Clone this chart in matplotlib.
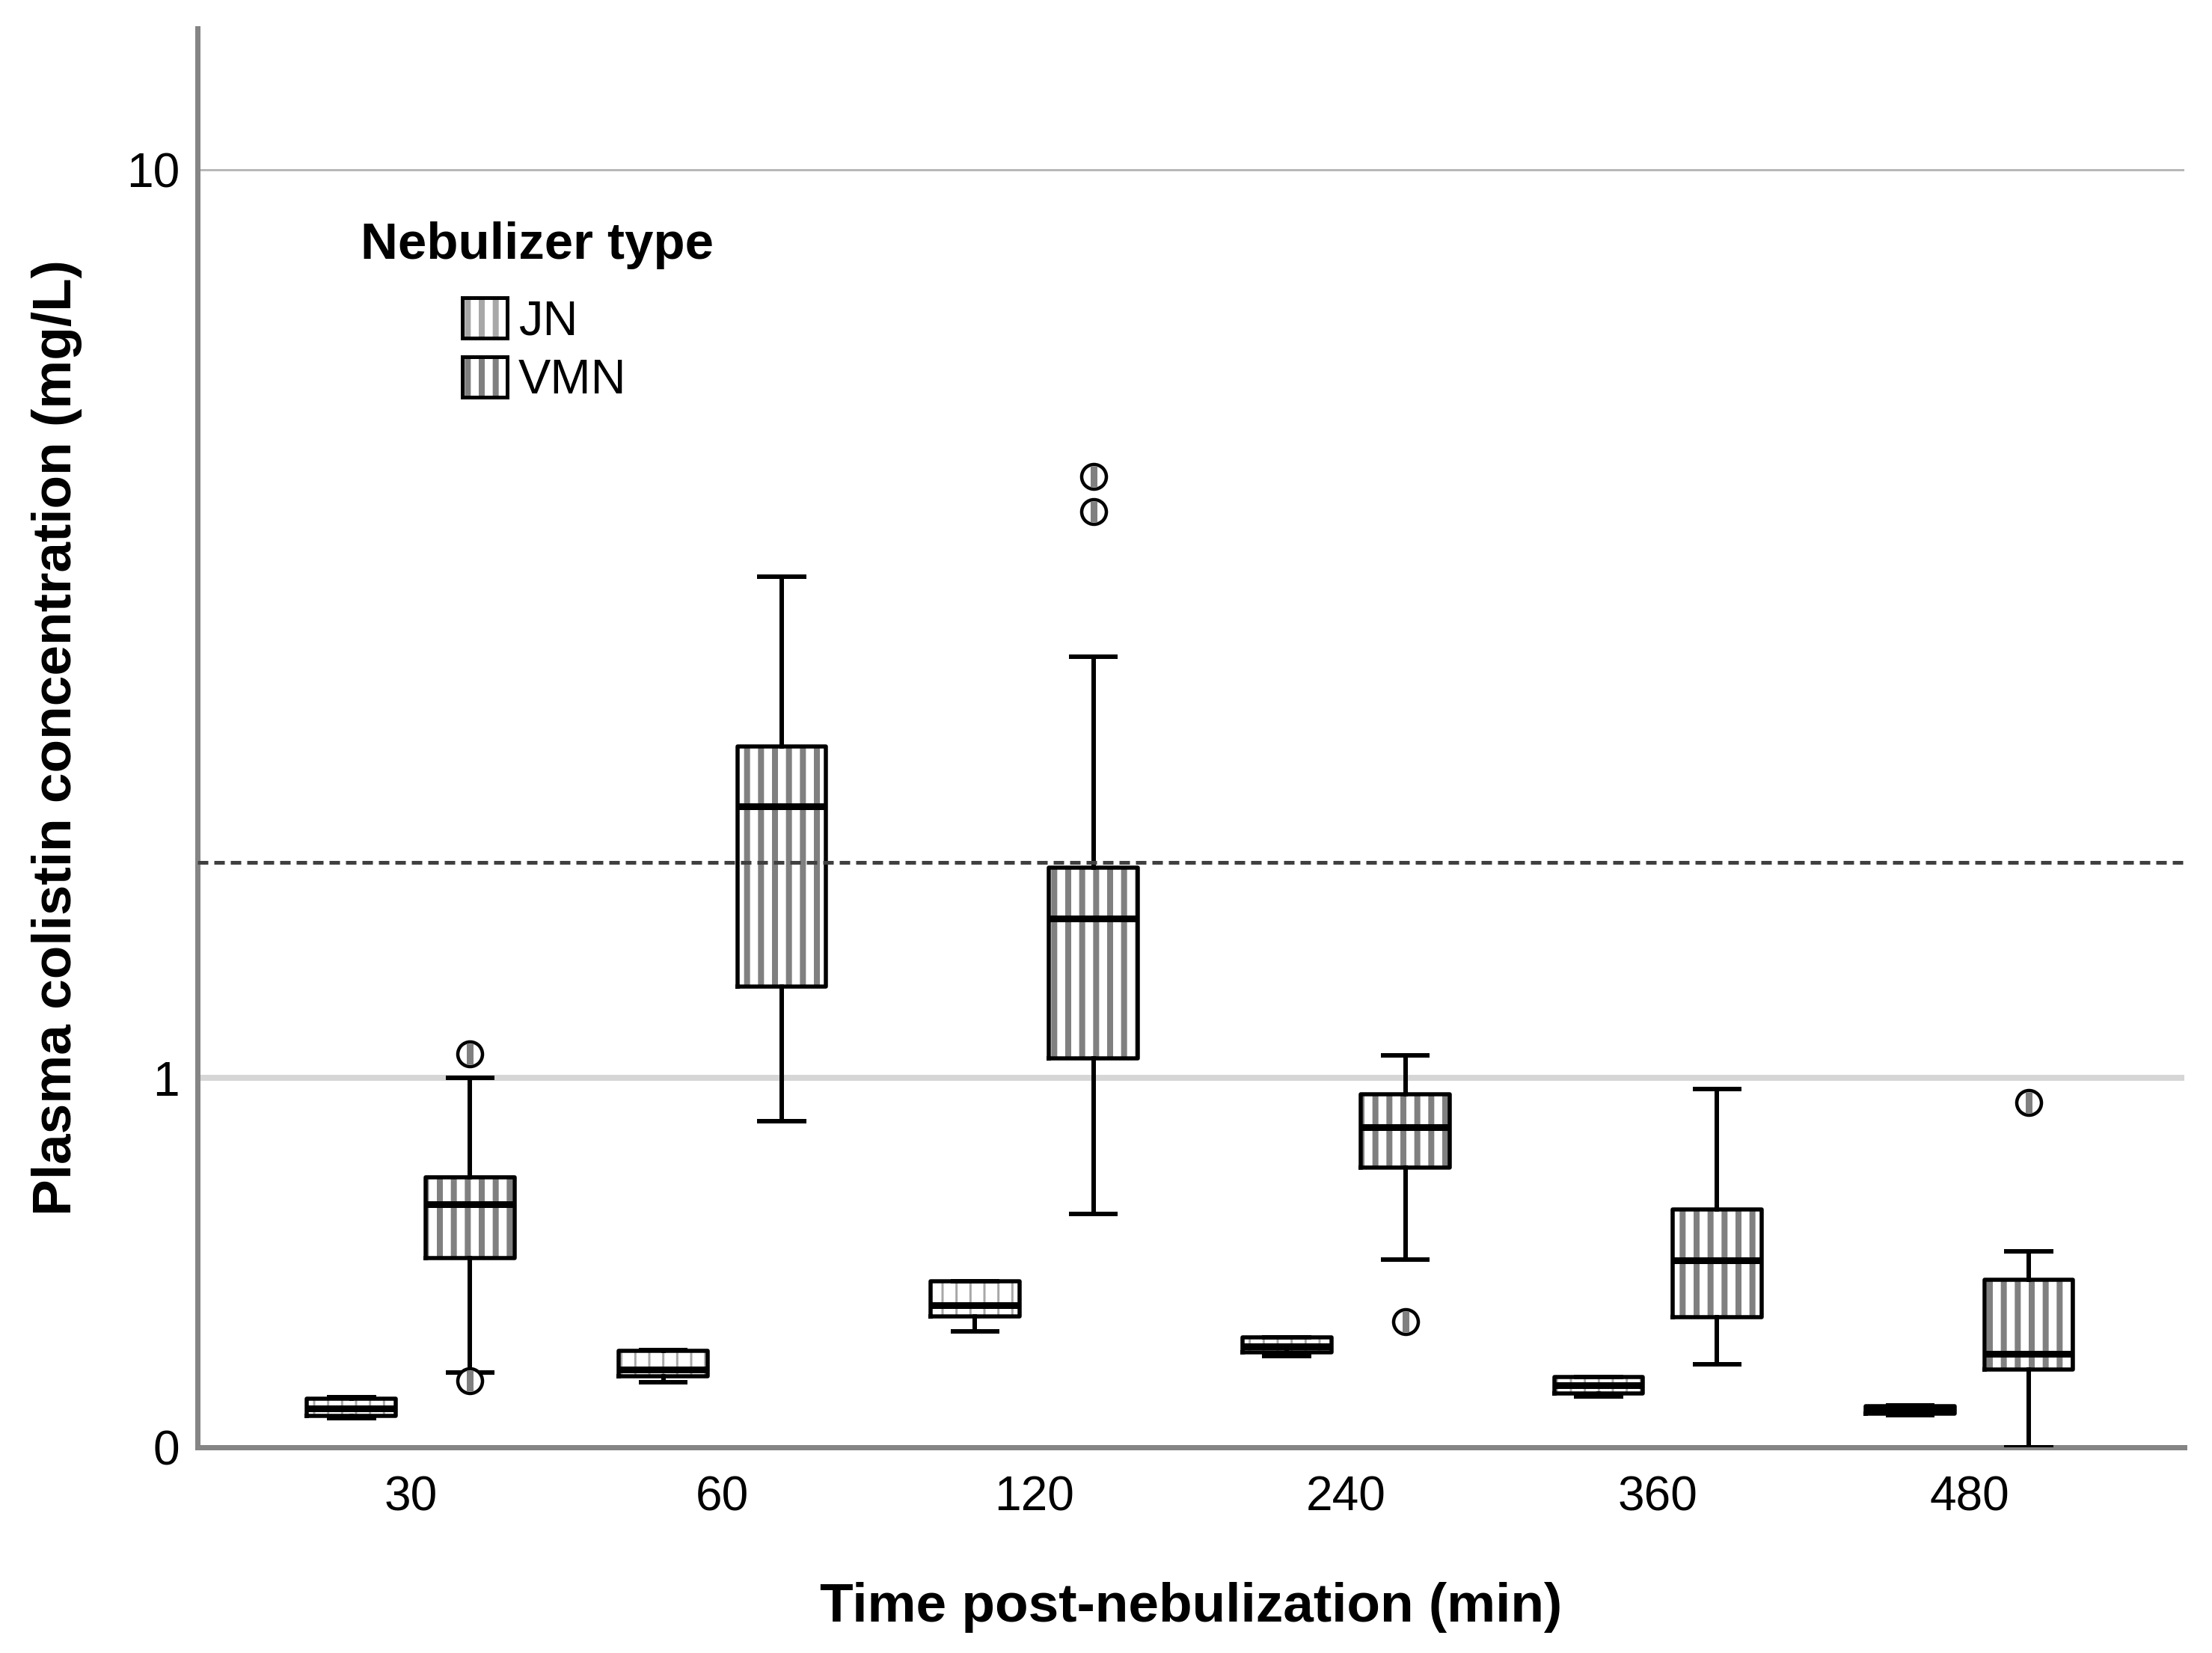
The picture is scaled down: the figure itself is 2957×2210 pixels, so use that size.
import numpy as np
import matplotlib
matplotlib.use("Agg")
import matplotlib.pyplot as plt
from matplotlib.patches import Patch
from matplotlib.legend_handler import HandlerTuple

# ---------------- data (mg/L) ----------------
times = ['30', '60', '120', '240', '360', '480']
groups = ['JN', 'VMN']

jn_whislo = [0.056, 0.130, 0.243, 0.187, 0.100, 0.062]
jn_q1     = [0.061, 0.143, 0.279, 0.195, 0.106, 0.065]
jn_med    = [0.076, 0.157, 0.306, 0.209, 0.124, 0.072]
jn_q3     = [0.096, 0.198, 0.366, 0.229, 0.141, 0.080]
jn_whishi = [0.099, 0.200, 0.366, 0.229, 0.141, 0.082]
jn_fliers = [[], [], [], [], [], []]

vmn_whislo = [0.151, 0.844, 0.550, 0.422, 0.169, 0.0]
vmn_q1     = [0.427, 1.375, 1.075, 0.690, 0.277, 0.157]
vmn_med    = [0.578, 2.330, 1.700, 0.824, 0.420, 0.192]
vmn_q3     = [0.660, 2.730, 1.970, 0.941, 0.563, 0.370]
vmn_whishi = [1.000, 4.130, 3.410, 1.087, 0.960, 0.445]
vmn_fliers = [[1.093, 0.133], [], [5.19, 4.79], [0.266], [], [0.910]]

reference_line = 2.0
y_ticks = [0, 1, 10]
y_ticklabels = ['0', '1', '10']

# ---------------- styling ----------------
DPI = 112
W, H = 2957, 2210
def px(v):
    return v * 72.0 / DPI

plt.rcParams['font.family'] = ['Liberation Sans', 'DejaVu Sans']
plt.rcParams['hatch.linewidth'] = px(8)
plt.rcParams['lines.scale_dashes'] = False

fig = plt.figure(figsize=(W / DPI, H / DPI), dpi=DPI)
ax = fig.add_axes([264 / W, 1 - 1935 / H, (2920 - 264) / W, (1935 - 38) / H])

# SPSS "safe log" scale
def fwd(y):
    y = np.asarray(y, dtype=float)
    return np.sign(y) * np.log10(np.abs(y) + 1)

def inv(z):
    z = np.asarray(z, dtype=float)
    return np.sign(z) * (10 ** np.abs(z) - 1)

ax.set_yscale('function', functions=(fwd, inv))

def make_stats(lo, q1, med, q3, hi, fl):
    return [dict(whislo=a, q1=b, med=c, q3=d, whishi=e, fliers=np.array(f, dtype=float), label=t)
            for a, b, c, d, e, f, t in zip(lo, q1, med, q3, hi, fl, times)]

stats = {
    'JN': make_stats(jn_whislo, jn_q1, jn_med, jn_q3, jn_whishi, jn_fliers),
    'VMN': make_stats(vmn_whislo, vmn_q1, vmn_med, vmn_q3, vmn_whishi, vmn_fliers),
}
offsets = {'JN': -0.19, 'VMN': 0.19}
hatch_col = {'JN': '#a8a8a8', 'VMN': '#808080'}
hatch_lw = {'JN': px(3), 'VMN': px(8)}
width = 0.285
x = np.arange(len(times))

for g in groups:
    pos = x + offsets[g]
    # layer 1: hatched fill
    r1 = ax.bxp(stats[g], positions=pos, widths=width, patch_artist=True,
                showcaps=False, showfliers=False, manage_ticks=False,
                boxprops=dict(facecolor='white', edgecolor=hatch_col[g], hatch='|', linewidth=0),
                zorder=2)
    for a in r1['whiskers'] + r1['medians']:
        a.set_visible(False)
    for b in r1['boxes']:
        try:
            b.set_hatch_linewidth(hatch_lw[g])
        except AttributeError:
            pass
    # layer 2: outlines, whiskers, medians, fliers
    ax.bxp(stats[g], positions=pos, widths=width, patch_artist=False,
           showcaps=True, showfliers=True, manage_ticks=False,
           capwidths=width * 0.5,
           boxprops=dict(color='black', linewidth=px(5.5)),
           medianprops=dict(color='black', linewidth=px(9), solid_capstyle='butt'),
           whiskerprops=dict(color='black', linewidth=px(6)),
           capprops=dict(color='black', linewidth=px(6)),
           flierprops=dict(marker='o', markerfacecolor='white', markeredgecolor='black',
                           markersize=px(33), markeredgewidth=px(4.5), linestyle='none'),
           zorder=3)
    # gray bar inside outlier circles
    for p, f in zip(pos, stats[g]):
        if len(f['fliers']):
            ax.plot(np.full(len(f['fliers']), p), f['fliers'], linestyle='none',
                    marker='|', markersize=px(28), markeredgewidth=px(9),
                    color='#808080', zorder=6)

# reference line
ax.axhline(reference_line, color='#404040', linewidth=px(5),
           linestyle=(0, (px(14), px(8))), zorder=4)

# axes limits / ticks
ax.set_xlim(-0.684, 5.689)
ax.set_ylim(0, 13.35)
ax.set_xticks(x)
ax.set_xticklabels(times)
ax.set_yticks(y_ticks)
ax.set_yticklabels(y_ticklabels)
ax.tick_params(axis='both', length=0, labelsize=px(64), colors='black')
ax.tick_params(axis='x', pad=px(38))
ax.tick_params(axis='y', pad=px(24))

# gridlines
ax.yaxis.grid(True)
grid_styles = {0: None, 1: ('#d6d6d6', px(8)), 10: ('#b8b8b8', px(3))}
for gl, v in zip(ax.get_ygridlines(), y_ticks):
    st = grid_styles.get(v)
    if st is None:
        gl.set_visible(False)
    else:
        gl.set_color(st[0])
        gl.set_linewidth(st[1])
        gl.set_zorder(1)
ax.set_axisbelow(True)

# spines
for s in ['top', 'right']:
    ax.spines[s].set_visible(False)
for s in ['left', 'bottom']:
    ax.spines[s].set_color('#858585')
    ax.spines[s].set_linewidth(px(7))
    ax.spines[s].set_zorder(2.5)

# labels
ax.set_xlabel('Time post-nebulization (min)', fontsize=px(73), fontweight='bold')
ax.set_ylabel('Plasma colistin concentration (mg/L)', fontsize=px(73), fontweight='bold')
ax.xaxis.set_label_coords(0.5, -0.095)
ax.yaxis.set_label_coords(-0.058, 0.5)

# legend (title drawn separately, entries indented below it)
fig.text(482 / W, 1 - 346 / H, 'Nebulizer type', fontsize=px(69), fontweight='bold',
         ha='left', va='baseline')
handles = []
for g in groups:
    pf = Patch(facecolor='white', edgecolor=hatch_col[g], hatch='|', linewidth=0)
    try:
        pf.set_hatch_linewidth(hatch_lw[g])
    except AttributeError:
        pass
    pe = Patch(facecolor='none', edgecolor='black', linewidth=px(5))
    handles.append((pf, pe))

leg = ax.legend(handles, groups, handler_map={tuple: HandlerTuple(ndivide=1, pad=0)},
                loc='upper left',
                bbox_to_anchor=(618 / W, 1 - 398 / H), bbox_transform=fig.transFigure,
                frameon=False, borderpad=0, borderaxespad=0, fontsize=px(65),
                handlelength=0.92, handleheight=0.89, handletextpad=0.23,
                labelspacing=0.26)

fig.savefig('out.png', dpi=DPI)
